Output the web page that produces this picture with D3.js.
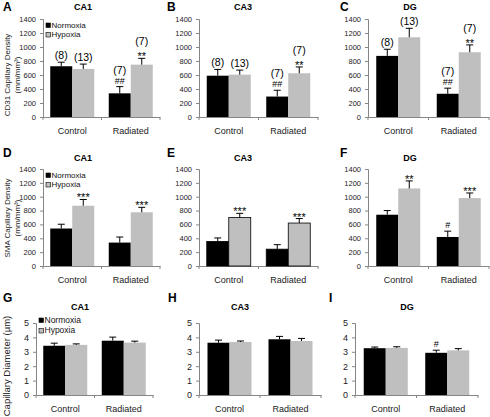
<!DOCTYPE html>
<html><head><meta charset="utf-8">
<script src="https://cdn.jsdelivr.net/npm/d3@7"></script>
<style>body{margin:0;background:#fff}svg{display:block;font-family:"Liberation Sans",Arial,sans-serif}</style>
</head><body><svg id="c" width="490" height="417"></svg>
<script>
// ---------- DATA ----------
const groups = ["Control", "Radiated"];
const series = ["Normoxia", "Hypoxia"];
const densityTicks = [0, 200, 400, 600, 800, 1000, 1200, 1400];
const diameterTicks = [0, 1, 2, 3, 4, 5];
const panelLetters = ["A","B","C","D","E","F","G","H","I"];
const panelTitles = ["CA1","CA3","DG","CA1","CA3","DG","CA1","CA3","DG"];
const yLabels = [["CD31 Capillary Density","(mm/mm³)"],["SMA Capillary Density","(mm/mm³)"],["Capillary Diameter (µm)"]];
// order of values: Control-Normoxia, Control-Hypoxia, Radiated-Normoxia, Radiated-Hypoxia
const A_mean = [725, 686, 338, 748];   const A_err = [58, 70, 96, 90];
const B_mean = [590, 605, 292, 625];   const B_err = [90, 65, 90, 90];
const C_mean = [873, 1139, 332, 925];  const C_err = [95, 128, 80, 105];
const D_mean = [541, 870, 338, 775];   const D_err = [62, 90, 80, 72];
const E_mean = [355, 700, 243, 620];   const E_err = [50, 60, 65, 65];
const F_mean = [740, 1119, 419, 980];  const F_err = [60, 109, 84, 74];
const G_mean = [3.42, 3.48, 3.77, 3.64]; const G_err = [0.18, 0.07, 0.25, 0.1];
const H_mean = [3.63, 3.68, 3.87, 3.75]; const H_err = [0.18, 0.07, 0.2, 0.18];
const I_mean = [3.25, 3.27, 2.93, 3.1];  const I_err = [0.08, 0.08, 0.18, 0.12];
const A_notes = [["(8)"],["(13)"],["##","(7)"],["**","(7)"]];
const B_notes = [["(8)"],["(13)"],["##","(7)"],["**","(7)"]];
const C_notes = [["(8)"],["(13)"],["##","(7)"],["**","(7)"]];
const D_notes = [[],["***"],[],["***"]];
const E_notes = [[],["***"],[],["***"]];
const F_notes = [[],["**"],["#"],["***"]];
const G_notes = [[],[],[],[]];
const H_notes = [[],[],[],[]];
const I_notes = [[],[],["#"],[]];

const means = [A_mean,B_mean,C_mean,D_mean,E_mean,F_mean,G_mean,H_mean,I_mean];
const errs = [A_err,B_err,C_err,D_err,E_err,F_err,G_err,H_err,I_err];
const notes = [A_notes,B_notes,C_notes,D_notes,E_notes,F_notes,G_notes,H_notes,I_notes];

// ---------- LAYOUT ----------
const colX = [[43,160],[199,318],[368,489]];
const row3X = [[36,153],[199,321],[355,478]];
const rowY = [[19,117],[169,266],[323,395]];
const letterX = [3,167,340];
const row3LetterX = [3,168,329];
const titleX = [83,243,410];
const letterY = [11,157,302];
const titleY = [10,161,310];
const barW = 22;
const colors = {Normoxia:"#000000", Hypoxia:"#bfbfbf"};
const axisColor = "#868686";

const svg = d3.select("#c");

for (let p = 0; p < 9; p++) {
  const row = Math.floor(p/3), col = p%3;
  const [xa, xb] = row === 2 ? row3X[col] : colX[col];
  const [yt, yb] = rowY[row];
  const isDiam = row === 2;
  const y = d3.scaleLinear().domain([0, isDiam ? 5 : 1400]).range([yb, yt]);
  const x0 = d3.scaleBand().domain(groups).range([xa, xb]).padding(0);
  const x1 = d3.scaleBand().domain(series).range([0, barW*2]).padding(0);
  const g = svg.append("g");

  // y axis
  const yAxis = d3.axisLeft(y).tickValues(isDiam ? diameterTicks : densityTicks)
    .tickFormat(d3.format("d")).tickSizeOuter(0).tickSize(3).tickPadding(4);
  const ya = g.append("g").attr("transform", `translate(${xa},0)`).call(yAxis);
  ya.select(".domain").attr("stroke", axisColor);
  ya.selectAll(".tick line").attr("stroke", axisColor);
  ya.selectAll("text").attr("font-size", isDiam ? 9 : 7.5).attr("fill", "#222");

  // x axis
  const xAxis = d3.axisBottom(x0).tickSize(0).tickPadding(11).tickSizeOuter(0);
  const xg = g.append("g").attr("transform", `translate(0,${yb})`).call(xAxis);
  xg.select(".domain").attr("stroke", axisColor);
  xg.selectAll("text").attr("font-size", 9).attr("fill", "#222");
  const bounds = [xa, x0("Radiated"), xb];
  g.selectAll(".btick").data(bounds).enter().append("line")
    .attr("x1", d => d).attr("x2", d => d).attr("y1", yb).attr("y2", yb+3)
    .attr("stroke", axisColor);

  // bars
  const vals = means[p], er = errs[p], nt = notes[p];
  const items = [];
  groups.forEach((gr, gi) => series.forEach((s, si) => {
    const i = gi*2 + si;
    const bx = x0(gr) + x0.bandwidth()/2 - barW + x1(s);
    items.push({gr, s, v: vals[i], e: er[i], n: nt[i], x: bx});
  }));
  g.selectAll(".bar").data(items).enter().append("rect")
    .attr("x", d => d.x).attr("width", x1.bandwidth())
    .attr("y", d => y(d.v)).attr("height", d => yb - y(d.v))
    .attr("fill", d => colors[d.s])
    .attr("stroke", p === 4 ? "#000" : "none").attr("stroke-width", 0.8);
  // error bars and annotations
  items.forEach(d => {
    const cx = d.x + x1.bandwidth()/2;
    const top = y(d.v + d.e);
    g.append("line").attr("x1", cx).attr("x2", cx).attr("y1", y(d.v)).attr("y2", top).attr("stroke", "#000").attr("stroke-width", 1);
    g.append("line").attr("x1", cx-3.5).attr("x2", cx+3.5).attr("y1", top).attr("y2", top).attr("stroke", "#000").attr("stroke-width", 1);
    d.n.forEach((t, k) => {
      const star = t[0] === "*";
      const hash = t[0] === "#";
      const base = top - 3 - k*10 + (star ? 5 : 0);
      g.append("text").attr("x", cx).attr("y", base).attr("text-anchor", "middle")
        .attr("font-size", star ? 11 : (hash ? 9 : 10.5)).attr("fill", "#000").text(t);
    });
  });

  // letter and title
  svg.append("text").attr("x", row === 2 ? row3LetterX[col] : letterX[col]).attr("y", letterY[row])
    .attr("font-size", 12).attr("font-weight", "bold").text(panelLetters[p]);
  svg.append("text").attr("x", row === 2 ? titleX[col] - 3 : titleX[col]).attr("y", titleY[row])
    .attr("text-anchor", "middle").attr("font-size", 9).attr("font-weight", "bold").text(panelTitles[p]);

  // y label and legend for first column
  if (col === 0) {
    const lbl = yLabels[row];
    const cy = row === 0 ? 75 : row === 1 ? 218 : 366;
    if (lbl.length === 2) {
      svg.append("text").attr("transform", `translate(9.5,${cy}) rotate(-90)`).attr("text-anchor", "middle").attr("font-size", 8).attr("fill", "#222").text(lbl[0]);
      svg.append("text").attr("transform", `translate(20,${cy}) rotate(-90)`).attr("text-anchor", "middle").attr("font-size", 8).attr("fill", "#222").text(lbl[1]);
    } else {
      svg.append("text").attr("transform", `translate(10,${cy}) rotate(-90)`).attr("text-anchor", "middle").attr("font-size", 9.5).attr("fill", "#222").text(lbl[0]);
    }
    const lx = xa + 3, ly = row === 0 ? 23 : row === 1 ? 173 : 318;
    const sp = row === 2 ? 10.5 : 9.5;
    const fs = row === 2 ? 8.5 : 8;
    series.forEach((s, si) => {
      svg.append("rect").attr("x", lx).attr("y", ly + si*sp).attr("width", 4.5).attr("height", 4.5)
        .attr("fill", colors[s]).attr("stroke", "#000").attr("stroke-width", 0.6);
      svg.append("text").attr("x", lx + 5.5).attr("y", ly + si*sp + 4.8).attr("font-size", fs).attr("fill", "#111").text(s);
    });
  }
}
</script></body></html>
